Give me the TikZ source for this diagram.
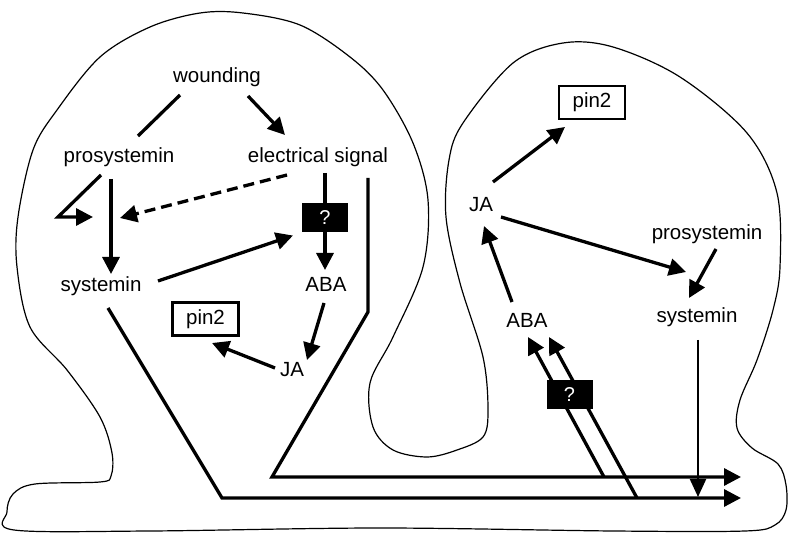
\documentclass[tikz,border=0pt]{standalone}
\usepackage{fontspec}
\setmainfont{Liberation Sans}
\usetikzlibrary{arrows.meta,calc}
\begin{document}
\begin{tikzpicture}[x=1pt,y=-1pt,
  lbl/.style={anchor=base,inner sep=0pt,font=\fontsize{20.5}{24}\selectfont},
  genebox/.style={draw,line width=2.6pt,minimum width=66pt,minimum height=33pt,inner sep=0pt,font=\fontsize{20.5}{24}\selectfont},
  qbox/.style={fill=black,text=white,minimum width=46pt,minimum height=29pt,inner sep=0pt,font=\fontsize{20}{22}\selectfont},
  outline/.style={line width=1.2pt,line join=round},
  link/.style={line width=3.3pt},
  arr/.style={link,-{Triangle[length=17pt,width=17pt]}},
  thinarr/.style={line width=2.2pt,-{Triangle[length=18pt,width=16pt]}},
  dashlink/.style={arr,dash pattern=on 11pt off 6pt}
]
\useasboundingbox (0,0) rectangle (788,534);

% plant outline: two leaves joined by the stem
\draw[outline] plot[smooth cycle, tension=0.55] coordinates {
  (111,476) (112,453) (100,417) (67,370) (30,327) (17,267) (18,217) (33,150)
  (57,110) (100,57) (150,27) (200,13) (243,13) (300,25) (350,57) (383,90)
  (413,143) (428,200) (423,267) (393,337) (370,383) (373,427) (393,450)
  (427,457) (457,450) (483,437) (488,410) (483,357) (460,283) (446,217)
  (449,160) (463,123) (513,63) (563,43) (613,47) (680,77) (747,133)
  (777,193) (780,267) (773,310) (757,360) (740,400) (737,428) (752,448)
  (778,464) (786,485) (786,510) (775,525) (745,531) (613,531) (380,528)
  (150,531) (14,530) (7,512) (13,494) (35,484) (100,482)};

% labels of the wounded leaf
\node[lbl] (W) at (217,83) {wounding};
\node[lbl] (P1) at (119,163) {prosystemin};
\node[lbl] (E) at (318,163) {electrical signal};
\node[qbox] (Q1) at (325,217.5) {?};
\node[lbl] (S1) at (101,292) {systemin};
\node[lbl] (A1) at (326,292) {ABA};
\node[genebox] (N1) at (205.5,319) {pin2};
\node[lbl] (J1) at (292,377) {JA};

% labels of the distant leaf
\node[genebox] (N2) at (592,102.5) {pin2};
\node[lbl] (J2) at (481,212) {JA};
\node[lbl] (P2) at (707,240) {prosystemin};
\node[lbl] (A2) at (527,328) {ABA};
\node[lbl] (S2) at (697,323) {systemin};

% bends of the long-distance signal lines
\coordinate (e1) at (368,312);
\coordinate (e2) at (272,477);
\coordinate (e3) at (741,477);
\coordinate (s1) at (222,498);
\coordinate (s3) at (741,498);
\coordinate (fa) at (604,477);
\coordinate (fb) at (637,498);
\coordinate (sv) at (698,497);

% wounded leaf
\draw[link] ([shift={(-37,12)}]W.base) -- ([shift={(19,-27)}]P1.base);
\draw[arr] ([shift={(31,13)}]W.base) -- ([shift={(-33,-28)}]E.base);
\draw[arr] ([shift={(-8,16)}]P1.base) -- ([shift={(10,-18)}]S1.base);
\draw[arr] ([shift={(-18,12)}]P1.base) -- ([shift={(-61,54)}]P1.base) -- ([shift={(-26,54)}]P1.base);
\draw[dashlink] ([shift={(-31,12)}]E.base) -- ([shift={(1,55)}]P1.base);
\draw[link] ([shift={(7,10)}]E.base) -- (Q1.north);
\draw[arr] (Q1.south) -- ([shift={(-1,-22)}]A1.base);
\draw[arr] ([shift={(57,-11)}]S1.base) -- ([shift={(-32,18)}]Q1.center);
\draw[arr] ([shift={(-2,11)}]A1.base) -- ([shift={(15,-17)}]J1.base);
\draw[arr] ([shift={(-17,-9)}]J1.base) -- ([shift={(6.5,24)}]N1.center);

% signals leaving the wounded leaf
\draw[arr] ([shift={(50,15)}]E.base) -- (e1) -- (e2) -- (e3);
\draw[arr] ([shift={(7,16)}]S1.base) -- (s1) -- (s3);

% distant leaf
\draw[arr] (fa) -- ([shift={(1,9)}]A2.base);
\draw[arr] (fb) -- ([shift={(22,9)}]A2.base);
\node[qbox] (Q2) at (569.5,395) {?};
\draw[arr] ([shift={(-15,-26)}]A2.base) -- ([shift={(3,14)}]J2.base);
\draw[arr] ([shift={(12,-30)}]J2.base) -- ([shift={(-27,24.5)}]N2.center);
\draw[arr] ([shift={(20,5)}]J2.base) -- ([shift={(-11,-51)}]S2.base);
\draw[arr] ([shift={(9,9)}]P2.base) -- ([shift={(-8,-25)}]S2.base);
\draw[thinarr] ([shift={(1,17)}]S2.base) -- (sv);
\end{tikzpicture}
\end{document}
